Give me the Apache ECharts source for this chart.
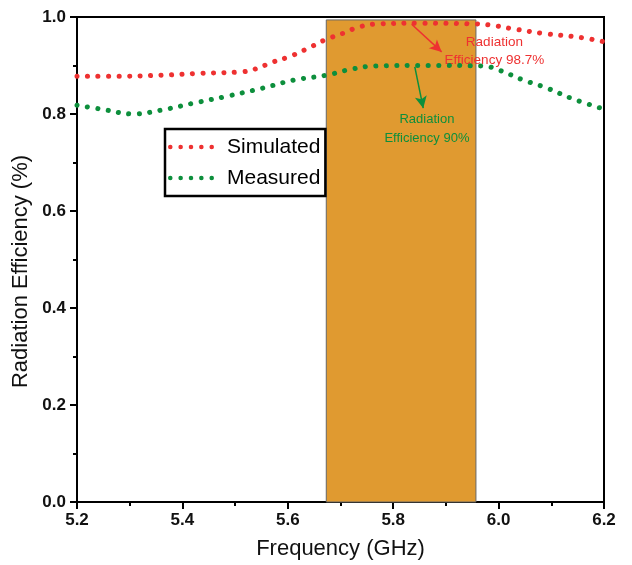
<!DOCTYPE html>
<html><head><meta charset="utf-8">
<script src="https://cdn.jsdelivr.net/npm/echarts@6/dist/echarts.min.js"></script>
<style>html,body{margin:0;padding:0;background:#fff}#c{width:632px;height:565px}</style>
</head><body><div id="c"></div>
<script>
const simFreq = [5.2,5.284,5.36,5.437,5.513,5.536,5.574,5.605,5.643,5.673,5.704,5.734,5.773,5.85,5.949,5.987,6.025,6.086,6.154,6.2];
const simEff  = [0.878,0.878,0.880,0.884,0.887,0.892,0.908,0.919,0.938,0.954,0.966,0.979,0.986,0.987,0.986,0.983,0.976,0.966,0.958,0.949];
const meaFreq = [5.2,5.246,5.307,5.36,5.42,5.482,5.551,5.612,5.673,5.719,5.765,5.87,5.971,6.002,6.047,6.093,6.139,6.2];
const meaEff  = [0.818,0.810,0.800,0.808,0.822,0.836,0.853,0.870,0.880,0.892,0.899,0.900,0.899,0.890,0.870,0.853,0.832,0.810];
const band = [5.673, 5.957, 0.994];
const xTicks = ['5.2','5.4','5.6','5.8','6.0','6.2'];
const yTicks = ['0.0','0.2','0.4','0.6','0.8','1.0'];

const RED = '#ee3131', GREEN = '#0d8f3c';
function circ(cx){ return 'M'+(cx-2.3)+',2.3a2.3,2.3 0 1,0 4.6,0a2.3,2.3 0 1,0 -4.6,0'; }
const dotPath = 'path://' + [2.3,12.7,23.1,33.5,43.9].map(circ).join('');
const tickFont = {fontFamily:'Liberation Sans, Arial', fontWeight:'bold', fontSize:17, color:'#111'};

const chart = echarts.init(document.getElementById('c'));
chart.setOption({
  animation:false,
  grid:{left:77,right:28,top:17,bottom:62,show:true,borderColor:'#000',borderWidth:2},
  legend:{
    left:165, top:129, orient:'vertical', itemWidth:46, itemHeight:4.6, itemGap:7,
    backgroundColor:'#fff', borderColor:'#000', borderWidth:2.5, padding:[6,5,6,3],
    textStyle:{fontFamily:'Liberation Sans, Arial', fontSize:21, lineHeight:24, color:'#000', padding:[0,0,0,8]},
    data:[{name:'Simulated',icon:dotPath,itemStyle:{color:RED}},{name:'Measured',icon:dotPath,itemStyle:{color:GREEN}}]
  },
  xAxis:{type:'value',min:5.2,max:6.2,interval:0.2,
    name:'Frequency (GHz)',nameLocation:'middle',nameGap:36,
    nameTextStyle:{fontFamily:'Liberation Sans, Arial',fontSize:22,color:'#111'},
    axisLine:{onZero:false,lineStyle:{color:'#000',width:2}},
    axisTick:{show:true,length:7,lineStyle:{color:'#000',width:2}},
    minorTick:{show:true,splitNumber:2,length:4,lineStyle:{color:'#000',width:2}},
    splitLine:{show:false},
    axisLabel:Object.assign({margin:10,formatter:(v)=>xTicks.find(t=>Math.abs(parseFloat(t)-v)<1e-6)||''},tickFont)
  },
  yAxis:{type:'value',min:0,max:1,interval:0.2,
    name:'Radiation Efficiency (%)',nameLocation:'middle',nameGap:45,
    nameTextStyle:{fontFamily:'Liberation Sans, Arial',fontSize:22,color:'#111',padding:[0,24,0,0]},
    axisLine:{onZero:false,lineStyle:{color:'#000',width:2}},
    axisTick:{show:true,length:7,lineStyle:{color:'#000',width:2}},
    minorTick:{show:true,splitNumber:2,length:4,lineStyle:{color:'#000',width:2}},
    splitLine:{show:false},
    axisLabel:Object.assign({margin:11,formatter:(v)=>yTicks.find(t=>Math.abs(parseFloat(t)-v)<1e-6)||''},tickFont)
  },
  series:[
    {type:'line',name:'band',data:[],z:1,silent:true,
      markArea:{silent:true,itemStyle:{color:'#e09a30',borderColor:'#666',borderWidth:1},
        data:[[{coord:[band[0],0]},{coord:[band[1],band[2]]}]]}},
    {type:'line',name:'Simulated',z:5,data:simFreq.map((f,i)=>[f,simEff[i]]),smooth:0.4,showSymbol:false,
      itemStyle:{color:RED},
      lineStyle:{color:RED,width:5,type:[0.1,10.4],cap:'round'},
      markLine:{silent:true,symbol:['none','arrow'],symbolSize:[9,12],label:{show:false},
        lineStyle:{color:RED,width:1.5,type:'solid'},
        data:[[{coord:[5.835,0.985]},{coord:[5.892,0.928]}]]},
      markPoint:{silent:true,symbol:'circle',symbolSize:0,
        label:{show:true,color:RED,fontFamily:'Liberation Sans, Arial',fontSize:13.5,lineHeight:18,align:'center',
          formatter:'Radiation\nEfficiency 98.7%'},
        data:[{coord:[5.992,0.929]}]}
    },
    {type:'line',name:'Measured',z:5,data:meaFreq.map((f,i)=>[f,meaEff[i]]),smooth:0.4,showSymbol:false,
      itemStyle:{color:GREEN},
      lineStyle:{color:GREEN,width:5,type:[0.1,10.4],cap:'round'},
      markLine:{silent:true,symbol:['none','arrow'],symbolSize:[9,12],label:{show:false},
        lineStyle:{color:GREEN,width:1.5,type:'solid',curveness:-0.3},
        data:[[{coord:[5.841,0.897]},{coord:[5.857,0.812]}]]},
      markPoint:{silent:true,symbol:'circle',symbolSize:0,
        label:{show:true,color:GREEN,fontFamily:'Liberation Sans, Arial',fontSize:13,lineHeight:19,align:'center',
          formatter:'Radiation\nEfficiency 90%'},
        data:[{coord:[5.864,0.770]}]}
    }
  ]
});
</script></body></html>
